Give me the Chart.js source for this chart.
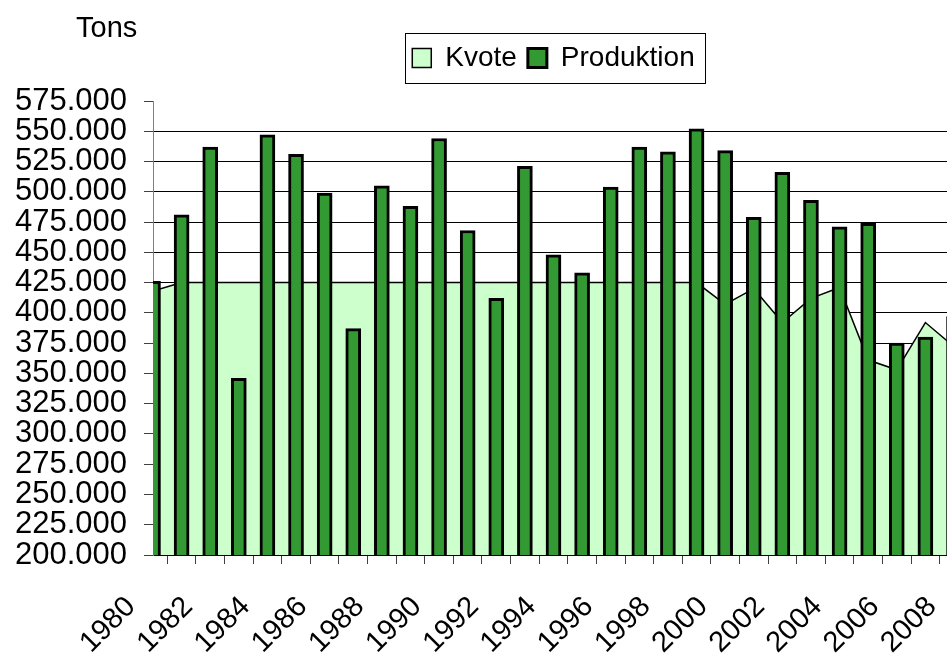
<!DOCTYPE html>
<html>
<head>
<meta charset="utf-8">
<title>Kvote og produktion</title>
<script src="https://cdn.jsdelivr.net/npm/chart.js@4.4.1/dist/chart.umd.min.js"></script>
<style>
  html, body { margin: 0; padding: 0; background: #fff; overflow: hidden; }
  /* plot runs a little past the window on the right, like the original */
  #wrap { position: relative; width: 954px; height: 655px; }
</style>
</head>
<body>
<div id="wrap"><canvas id="chart"></canvas></div>
<script>
// data (tons)
const years = ['1980', '1981', '1982', '1983', '1984', '1985', '1986', '1987', '1988', '1989',
               '1990', '1991', '1992', '1993', '1994', '1995', '1996', '1997', '1998', '1999',
               '2000', '2001', '2002', '2003', '2004', '2005', '2006', '2007', '2008'];
const kvote = [418000, 425000, 425000, 425000, 425000, 425000, 425000, 425000, 425000, 425000,
               425000, 425000, 425000, 425000, 425000, 425000, 425000, 425000, 425000, 425000,
               407000, 420000, 392000, 412000, 421000, 361000, 353000, 392000, 372000];
const produktion = [426000, 481000, 537000, 346000, 547000, 531000, 499000, 387000, 505000, 488000,
                    544000, 468000, 412000, 521000, 448000, 433000, 504000, 537000, 533000, 552000,
                    534000, 479000, 516000, 493000, 471000, 474000, 375000, 380000, 397000];
const seriesNames = ['Kvote', 'Produktion'];
const unitText = 'Tons';
const yMin = 200000, yMax = 575000, yStep = 25000;

const FONT = '"Liberation Sans", Arial, Helvetica, sans-serif';
Chart.defaults.font.family = FONT;
Chart.defaults.color = '#000';

// 575.000 style labels
function fmt(v) { return String(v).replace(/\B(?=(\d{3})+(?!\d))/g, '.'); }

// frame round the legend
const legendFrame = {
    id: 'legendFrame',
    afterDraw(chart) {
        const hb = chart.legend && chart.legend.legendHitBoxes;
        if (!hb || !hb.length) return;
        const first = hb[0], last = hb[hb.length - 1];
        const left = Math.round(first.left - 7);
        const right = Math.round(last.left + last.width + 10);
        const mid = first.top + first.height / 2;
        const c = chart.ctx;
        c.save();
        c.strokeStyle = '#000';
        c.lineWidth = 1;
        c.strokeRect(left + 0.5, Math.round(mid - 25) + 0.5, right - left, 50);
        c.restore();
    }
};

// unit text above the y axis
const unitLabel = {
    id: 'unitLabel',
    afterDraw(chart) {
        const c = chart.ctx;
        c.save();
        c.font = '29px ' + FONT;
        c.fillStyle = '#000';
        c.textBaseline = 'alphabetic';
        c.textAlign = 'left';
        c.fillText(unitText, chart.chartArea.left - 77, 37);
        c.restore();
    }
};

const ctx = document.getElementById('chart').getContext('2d');
new Chart(ctx, {
    type: 'bar',
    data: {
        labels: years,
        datasets: [
            {
                type: 'line', label: seriesNames[0], data: kvote, order: 2,
                fill: 'start', backgroundColor: '#ccffcc', borderColor: '#000', borderWidth: 1.5,
                pointRadius: 0, pointHoverRadius: 0, tension: 0, clip: 0
            },
            {
                type: 'bar', label: seriesNames[1], data: produktion, order: 1,
                backgroundColor: '#339933', borderColor: '#000', borderWidth: 3,
                barThickness: 15, clip: 0
            }
        ]
    },
    options: {
        responsive: true,
        maintainAspectRatio: false,
        animation: false,
        layout: { padding: { top: 33, left: 0, right: 0, bottom: 0 } },
        plugins: {
            legend: {
                position: 'top',
                fullSize: false,
                labels: {
                    font: { size: 28 }, color: '#000',
                    boxWidth: 19, boxHeight: 19, padding: 11,
                    sort: (a, b) => a.datasetIndex - b.datasetIndex
                }
            },
            // empty box between legend and plot, keeps the plot top at 575.000 = y 101
            subtitle: { display: true, text: '', weight: 500, font: { size: 10 }, padding: { top: 0, bottom: 7 } },
            tooltip: { enabled: false }
        },
        scales: {
            x: {
                offset: false,
                grid: { drawOnChartArea: false, drawTicks: true, tickLength: 9, tickColor: '#404040', tickWidth: 1 },
                border: { color: '#000', width: 1 },
                ticks: {
                    autoSkip: false, minRotation: 45, maxRotation: 45,
                    labelOffset: -22, padding: 26,
                    font: { size: 29 }, color: '#000',
                    callback: (v, i) => (i % 2 === 0 ? years[i] : '')
                },
                afterFit: s => { s.height = 100; s.paddingLeft = 0; s.paddingRight = 0; }
            },
            y: {
                min: yMin, max: yMax,
                ticks: { stepSize: yStep, autoSkip: false, callback: v => fmt(v), font: { size: 31 }, color: '#000', padding: 17 },
                grid: {
                    color: c => (c.tick && (c.tick.value === yMax || c.tick.value === yMin)) ? 'rgba(0,0,0,0)' : '#000',
                    lineWidth: 1, tickLength: 9, tickColor: '#404040'
                },
                border: { color: '#808080', width: 1 },
                afterFit: s => { s.width = 153; }
            }
        }
    },
    plugins: [legendFrame, unitLabel]
});
</script>
</body>
</html>
